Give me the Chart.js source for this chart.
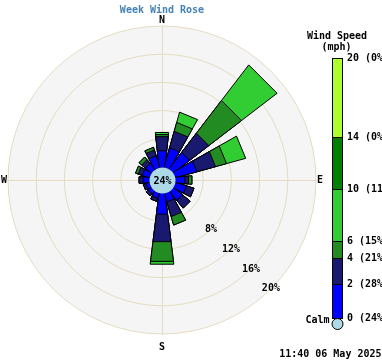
<!DOCTYPE html>
<html>
<head>
<meta charset="utf-8">
<title>Week Wind Rose</title>
<script src="https://cdn.jsdelivr.net/npm/chart.js@4.4.0/dist/chart.umd.min.js"></script>
<style>
  body { margin: 0; background: #fff; }
  canvas { display: block; }
</style>
</head>
<body>
<canvas id="rose" width="382" height="361"></canvas>
<script>
// --- Datos (porcentaje del tiempo por dirección y banda de velocidad) ---
const directions = ['N', 'NNE', 'NE', 'ENE', 'E', 'ESE', 'SE', 'SSE', 'S', 'SSW', 'SW', 'WSW', 'W', 'WNW', 'NW', 'NNW'];
const band0to2 = [2.3, 2.8, 2.9, 3.2, 1.4, 1.7, 1.7, 1.3, 3.0, 0.8, 0.55, 0.5, 0.85, 1.0, 1.0, 1.65];
const band2to4 = [2.0, 2.4, 3.4, 2.7, 0.5, 1.1, 1.4, 2.15, 3.9, 0.45, 0.4, 0.35, 0.55, 0.6, 0.7, 0.85];
const band4to6 = [0.3, 1.3, 5.8, 1.6, 0.5, 0, 0, 1.25, 2.8, 0, 0, 0, 0, 0.4, 0.5, 0.4];
const band6to10 = [0.3, 1.5, 6.3, 2.8, 0, 0, 0, 0, 0.4, 0, 0, 0, 0, 0, 0, 0];
const calmPercent = 24;

const ringTicks = [4, 8, 12, 16, 20];
const ringLabels = ['8%', '12%', '16%', '20%'];

// Leyenda (de arriba a abajo)
const speedStops = ['20', '14', '10', '6', '4', '2', '0'];
const speedShares = ['0%', '0%', '11%', '15%', '21%', '28%', '24%'];

// --- Estilo ---
const bandColors = ['#0000ff', '#191970', '#228b22', '#32cd32', '#008000', '#adff2f'];
const calmColor = '#add8e6';
const ringColor = '#e3dcc2';
const discColor = '#f5f5f5';
const FONT = 'bold 10px "DejaVu Sans Mono", "Liberation Mono", monospace';
const petalDeg = 16;
const gapDeg = 22.5 - petalDeg;
const petalBaseHalf = 2.8;   // media anchura del pétalo junto al círculo de calma
const calmRadiusPx = 13;
const maxRadiusPx = 154;
const legendStopY = [58, 137, 189, 241, 258, 284, 318];

// Construye los valores acumulados (cada banda se dibuja desde el centro)
const bands = [band0to2, band2to4, band4to6, band6to10];
const cumulative = bands.map((_, k) =>
    directions.map((d, i) => bands.slice(0, k + 1).reduce((s, b) => s + b[i], 0)));

// Cada dirección: pétalo + hueco (valor 0, transparente)
const labels = [];
directions.forEach(d => { labels.push(d, ''); });

const datasets = cumulative.map((vals, k) => {
    const data = [];
    vals.forEach(v => { data.push(v, 0); });
    return {
        label: 'band' + k,
        data: data,
        backgroundColor: ctx => ctx.dataIndex % 2 ? 'rgba(0,0,0,0)' : bandColors[k],
        borderColor: '#000',
        borderWidth: ctx => ctx.dataIndex % 2 ? 0 : 1,
        angle: ctx => ctx.dataIndex % 2 ? gapDeg : petalDeg
    };
});

// Los pétalos de la rosa se dibujan como trapecios (base ancha junto al círculo de calma)
const baseArcDraw = Chart.ArcElement.prototype.draw;
Chart.ArcElement.prototype.draw = function (ctx) {
    if (this.$petalOuter === undefined) return baseArcDraw.call(this, ctx);
    const o = this.options;
    if (!o.borderWidth) return;
    const { x, y, startAngle, endAngle, outerRadius } = this;
    const mid = (startAngle + endAngle) / 2;
    const half = (endAngle - startAngle) / 2;
    const tot = this.$petalOuter;
    const rIn = this.$petalInner;
    const hTot = Math.max(tot * Math.tan(half), petalBaseHalf);
    const halfAt = s => petalBaseHalf + (s - rIn) * (hTot - petalBaseHalf) / Math.max(tot - rIn, 1);
    const r = outerRadius;
    const h = halfAt(r);
    const ux = Math.cos(mid), uy = Math.sin(mid);
    const vx = -uy, vy = ux;
    ctx.save();
    ctx.beginPath();
    ctx.moveTo(x + ux * rIn - vx * petalBaseHalf, y + uy * rIn - vy * petalBaseHalf);
    ctx.lineTo(x + ux * r - vx * h, y + uy * r - vy * h);
    ctx.lineTo(x + ux * r + vx * h, y + uy * r + vy * h);
    ctx.lineTo(x + ux * rIn + vx * petalBaseHalf, y + uy * rIn + vy * petalBaseHalf);
    ctx.closePath();
    ctx.fillStyle = o.backgroundColor;
    ctx.fill();
    ctx.lineWidth = o.borderWidth;
    ctx.strokeStyle = o.borderColor;
    ctx.lineJoin = 'miter';
    ctx.stroke();
    ctx.restore();
};

const roseDecor = {
    id: 'roseDecor',
    afterDatasetsUpdate(chart) {
        const s = chart.scales.r;
        const outerMeta = chart.getDatasetMeta(datasets.length - 1);
        chart.data.datasets.forEach((ds, k) => {
            chart.getDatasetMeta(k).data.forEach((el, i) => {
                el.$petalOuter = outerMeta.data[i].outerRadius;
                el.$petalInner = s.getDistanceFromCenterForValue(0) - 1;
            });
        });
    },
    beforeDatasetsDraw(chart) {
        const s = chart.scales.r;
        const ctx = chart.ctx;
        const R = s.drawingArea;
        const x = s.xCenter + 0.5, y = s.yCenter + 0.5;
        ctx.save();
        ctx.strokeStyle = ringColor;
        ctx.lineWidth = 1;
        ctx.beginPath();
        ctx.moveTo(x, y - R); ctx.lineTo(x, y + R);
        ctx.moveTo(x - R, y); ctx.lineTo(x + R, y);
        ctx.stroke();
        ctx.restore();
    },
    afterDatasetsDraw(chart) {
        const s = chart.scales.r;
        const ctx = chart.ctx;
        ctx.save();
        // círculo de calma
        ctx.beginPath();
        ctx.arc(s.xCenter + 0.5, s.yCenter + 0.5, s.getDistanceFromCenterForValue(0), 0, Math.PI * 2);
        ctx.fillStyle = calmColor;
        ctx.fill();
        ctx.font = FONT;
        ctx.fillStyle = '#000';
        ctx.textAlign = 'center';
        ctx.textBaseline = 'middle';
        ctx.fillText(calmPercent + '%', s.xCenter + 0.5, s.yCenter + 1);
        // etiquetas de los anillos (diagonal SE)
        ringLabels.forEach((t, i) => {
            const d = s.getDistanceFromCenterForValue(ringTicks[i + 1]);
            ctx.fillText(t, s.xCenter + d * Math.SQRT1_2, s.yCenter + d * Math.SQRT1_2);
        });
        ctx.restore();
    },
    afterDraw(chart) {
        const s = chart.scales.r;
        const ctx = chart.ctx;
        const R = s.drawingArea;
        ctx.save();
        ctx.font = FONT;
        ctx.textBaseline = 'middle';
        ctx.textAlign = 'center';
        // título
        ctx.fillStyle = '#4682b4';
        ctx.fillText('Week Wind Rose', s.xCenter, 10.5);
        // puntos cardinales
        ctx.fillStyle = '#000';
        ctx.fillText('N', s.xCenter, s.yCenter - R - 6);
        ctx.fillText('S', s.xCenter, s.yCenter + R + 13);
        ctx.fillText('E', s.xCenter + R + 4, s.yCenter);
        ctx.fillText('W', s.xCenter - R - 4, s.yCenter);

        // leyenda de velocidad
        ctx.fillText('Wind Speed', 337, 36);
        ctx.fillText('(mph)', 336.5, 47);
        const lx = 332.5, lw = 10;
        const colorsTopDown = bandColors.slice().reverse();
        for (let i = 0; i < legendStopY.length - 1; i++) {
            ctx.fillStyle = colorsTopDown[i];
            ctx.fillRect(lx, legendStopY[i] + 0.5, lw, legendStopY[i + 1] - legendStopY[i]);
        }
        ctx.strokeStyle = '#000';
        ctx.lineWidth = 1;
        ctx.strokeRect(lx, legendStopY[0] + 0.5, lw, legendStopY[legendStopY.length - 1] - legendStopY[0]);
        ctx.beginPath();
        legendStopY.slice(1, -1).forEach(y => { ctx.moveTo(lx, y + 0.5); ctx.lineTo(lx + lw, y + 0.5); });
        ctx.stroke();
        ctx.beginPath();
        ctx.arc(lx + lw / 2, 324, 5.5, 0, Math.PI * 2);
        ctx.fillStyle = calmColor;
        ctx.fill();
        ctx.stroke();

        ctx.fillStyle = '#000';
        ctx.textAlign = 'left';
        speedStops.forEach((v, i) => {
            ctx.fillText(v + ' (' + speedShares[i] + ')', 347, legendStopY[i] + 0.5);
        });
        ctx.textAlign = 'right';
        ctx.fillText('Calm', 329.5, 320);
        ctx.fillText('11:40 06 May 2025', 381.5, 354);
        ctx.restore();
    }
};

new Chart(document.getElementById('rose'), {
    type: 'polarArea',
    data: { labels: labels, datasets: datasets },
    options: {
        responsive: false,
        devicePixelRatio: 1,
        animation: false,
        events: [],
        layout: { padding: { left: 8, top: 26, right: 66, bottom: 27 } },
        plugins: { legend: { display: false }, tooltip: { enabled: false } },
        scales: {
            r: {
                min: -20 * calmRadiusPx / (maxRadiusPx - calmRadiusPx),
                max: 20,
                startAngle: -petalDeg / 2,
                backgroundColor: discColor,
                afterBuildTicks: scale => {
                    scale.ticks = [scale.min].concat(ringTicks).map(v => ({ value: v }));
                },
                ticks: { display: false },
                grid: {
                    circular: true,
                    lineWidth: 1,
                    color: ctx => (ctx.tick && ctx.tick.value < 0) ? 'rgba(0,0,0,0)' : ringColor
                },
                angleLines: { display: false },
                pointLabels: { display: false }
            }
        }
    },
    plugins: [roseDecor]
});
</script>
</body>
</html>
